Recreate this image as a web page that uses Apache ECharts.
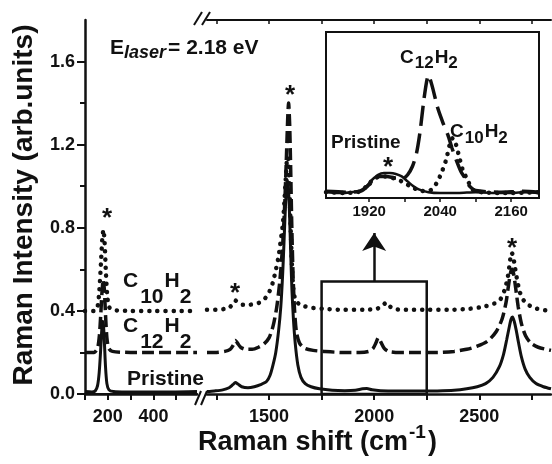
<!DOCTYPE html>
<html>
<head>
<meta charset="utf-8">
<script src="https://cdn.jsdelivr.net/npm/echarts@6/dist/echarts.min.js"></script>
<style>
  html,body{margin:0;padding:0;background:#fff;}
  #main{width:552px;height:464px;}
</style>
</head>
<body>
<div id="main"></div>
<script>
// spectra, [shift, intensity]
var pristineLow=[[100,0.012],[130,0.01],[145,0.015],[155,0.04],[162,0.1],[168,0.2],[173,0.3],[177,0.35],[181,0.33],[185,0.25],[190,0.13],[196,0.05],[205,0.02],[225,0.012],[280,0.01],[380,0.01],[480,0.01],[591,0.012]];
var c12Low=[[100,0.2],[140,0.2],[155,0.22],[163,0.28],[169,0.38],[175,0.5],[180,0.55],[185,0.5],[190,0.38],[196,0.27],[204,0.22],[220,0.205],[300,0.2],[400,0.2],[500,0.2],[591,0.2]];
var c10Low=[[100,0.4],[140,0.4],[155,0.42],[163,0.5],[170,0.63],[176,0.75],[181,0.79],[186,0.73],[191,0.6],[197,0.48],[205,0.42],[220,0.405],[300,0.4],[400,0.4],[500,0.4],[591,0.4]];

var pristineHigh=[[1205,0.012],[1240,0.015],[1280,0.02],[1310,0.03],[1328,0.045],[1340,0.055],[1352,0.048],[1370,0.035],[1400,0.03],[1430,0.035],[1460,0.045],[1488,0.06],[1505,0.09],[1519,0.14],[1532,0.2],[1545,0.3],[1556,0.42],[1565,0.58],[1572,0.75],[1578,0.9],[1583,0.99],[1588,1.03],[1593,0.98],[1598,0.85],[1603,0.68],[1609,0.5],[1616,0.36],[1625,0.24],[1637,0.14],[1652,0.08],[1672,0.05],[1700,0.035],[1740,0.025],[1800,0.018],[1860,0.016],[1910,0.018],[1945,0.025],[1965,0.026],[1990,0.02],[2030,0.016],[2100,0.014],[2200,0.014],[2300,0.015],[2380,0.018],[2440,0.025],[2490,0.035],[2530,0.05],[2565,0.08],[2595,0.13],[2615,0.19],[2630,0.26],[2642,0.32],[2651,0.36],[2658,0.37],[2666,0.35],[2675,0.31],[2686,0.25],[2700,0.18],[2718,0.12],[2740,0.08],[2770,0.05],[2805,0.035],[2841,0.025]];
var c12High=[[1205,0.2],[1250,0.2],[1290,0.205],[1315,0.215],[1330,0.235],[1340,0.258],[1350,0.245],[1365,0.225],[1390,0.215],[1420,0.215],[1450,0.225],[1475,0.24],[1500,0.27],[1520,0.33],[1537,0.42],[1552,0.55],[1565,0.72],[1575,0.92],[1583,1.15],[1589,1.33],[1593,1.4],[1598,1.3],[1603,1.08],[1608,0.82],[1614,0.58],[1621,0.41],[1630,0.3],[1645,0.245],[1670,0.22],[1710,0.21],[1760,0.205],[1850,0.2],[1930,0.2],[1975,0.205],[1995,0.22],[2008,0.245],[2020,0.272],[2032,0.25],[2048,0.22],[2070,0.205],[2120,0.2],[2200,0.2],[2300,0.2],[2380,0.205],[2440,0.215],[2490,0.23],[2540,0.255],[2580,0.3],[2608,0.36],[2627,0.44],[2640,0.53],[2650,0.59],[2656,0.6],[2663,0.58],[2673,0.51],[2685,0.42],[2700,0.34],[2720,0.28],[2745,0.245],[2780,0.225],[2841,0.21]];
var c10High=[[1205,0.405],[1250,0.405],[1290,0.41],[1315,0.42],[1330,0.435],[1340,0.45],[1352,0.44],[1375,0.43],[1410,0.43],[1440,0.435],[1465,0.445],[1489,0.47],[1505,0.5],[1519,0.54],[1533,0.6],[1545,0.66],[1556,0.74],[1566,0.82],[1574,0.94],[1581,1.06],[1587,1.14],[1592,1.13],[1597,1.0],[1603,0.8],[1609,0.62],[1616,0.5],[1625,0.455],[1640,0.435],[1660,0.425],[1700,0.415],[1760,0.41],[1850,0.405],[1950,0.405],[2010,0.41],[2035,0.42],[2050,0.435],[2060,0.44],[2072,0.425],[2090,0.41],[2150,0.405],[2250,0.405],[2350,0.405],[2450,0.41],[2520,0.42],[2570,0.435],[2600,0.455],[2620,0.5],[2635,0.56],[2645,0.63],[2653,0.68],[2660,0.67],[2668,0.62],[2678,0.56],[2690,0.5],[2705,0.46],[2725,0.435],[2760,0.415],[2800,0.405],[2841,0.4]];

// inset, 1850-2200 region
var pristineInset=[[1847,0.035],[1870,0.03],[1890,0.035],[1905,0.045],[1915,0.07],[1925,0.11],[1935,0.14],[1945,0.15],[1955,0.15],[1965,0.145],[1975,0.13],[1985,0.1],[1995,0.07],[2005,0.05],[2020,0.035],[2040,0.03],[2070,0.03],[2100,0.035],[2130,0.03],[2160,0.03],[2185,0.035],[2207,0.03]];
var c12Inset=[[1847,0.04],[1880,0.035],[1905,0.04],[1920,0.08],[1935,0.13],[1950,0.13],[1965,0.12],[1978,0.12],[1985,0.14],[1993,0.19],[2000,0.27],[2006,0.4],[2012,0.58],[2017,0.7],[2020,0.74],[2026,0.68],[2036,0.54],[2045,0.45],[2053,0.38],[2060,0.3],[2067,0.23],[2075,0.16],[2082,0.12],[2090,0.07],[2100,0.045],[2140,0.035],[2180,0.04],[2207,0.035]];
var c10Inset=[[1847,0.035],[1880,0.03],[1905,0.04],[1918,0.08],[1930,0.12],[1945,0.13],[1960,0.12],[1975,0.1],[1990,0.07],[2005,0.045],[2018,0.04],[2025,0.05],[2034,0.09],[2042,0.15],[2050,0.23],[2056,0.32],[2061,0.36],[2066,0.33],[2072,0.25],[2078,0.17],[2086,0.11],[2095,0.05],[2110,0.035],[2150,0.03],[2207,0.035]];

var lowTicks=[100,200,300,400,500];
var lowLabels=[200,400];
var highTicks=[1250,1500,1750,2000,2250,2500,2750];
var highLabels=[1500,2000,2500];
var yMajor=[0,0.4,0.8,1.2,1.6];
var yMinor=[0.2,0.6,1.0,1.4];
var insetTicks=[1920,1980,2040,2100,2160];
var insetLabels=[1920,2040,2160];

var INK='#111';
var FONT='"Liberation Sans", Arial, sans-serif';

var ctx=document.createElement('canvas').getContext('2d');
function fnt(size,italic){ return (italic?'italic ':'')+'bold '+size+'px '+FONT; }
// text made of pieces (subscripts, superscripts) laid one after another
function pieces(x,y,parts){
  var out=[];
  parts.forEach(function(p){
    var f=fnt(p.size,p.italic);
    ctx.font=f;
    x+=(p.gap||0);
    out.push({type:'text',x:x,y:y+(p.dy||0),z:100,
      style:{text:p.t,font:f,fill:INK,textAlign:'left',textVerticalAlign:'middle'}});
    x+=ctx.measureText(p.t).width;
  });
  return out;
}
function star(x,y){
  return {type:'text',x:x,y:y+6,z:100,style:{text:'*',font:fnt(26),fill:INK,textAlign:'center',textVerticalAlign:'middle'}};
}
function slash(x1,y1,x2,y2){
  return {type:'line',z:100,shape:{x1:x1,y1:y1,x2:x2,y2:y2},style:{stroke:INK,lineWidth:2}};
}
function plain(v){ return String(v); }

var graphics=[]
  .concat(pieces(110,48.5,[{t:'E',size:21},{t:'laser',size:18,italic:true,dy:5},{t:'= 2.18 eV',size:21,gap:2}]))
  .concat(pieces(123,281,[{t:'C',size:21},{t:'10',size:21,dy:16,gap:2},{t:'H',size:21,gap:1},{t:'2',size:21,dy:16}]))
  .concat(pieces(123,326,[{t:'C',size:21},{t:'12',size:21,dy:16,gap:2},{t:'H',size:21,gap:1},{t:'2',size:21,dy:16}]))
  .concat(pieces(127,379.5,[{t:'Pristine',size:21}]))
  .concat(pieces(400,57.5,[{t:'C',size:19},{t:'12',size:17,dy:6,gap:1},{t:'H',size:19,gap:1},{t:'2',size:17,dy:6}]))
  .concat(pieces(450,132,[{t:'C',size:19},{t:'10',size:17,dy:6,gap:1},{t:'H',size:19,gap:1},{t:'2',size:17,dy:6}]))
  .concat(pieces(331,143,[{t:'Pristine',size:19}]))
  .concat(pieces(198,443,[{t:'Raman shift (cm',size:27},{t:'-1',size:19,dy:-10,gap:1},{t:')',size:27,gap:2}]))
  .concat([
    {type:'text',x:24,y:205,rotation:Math.PI/2,z:100,
     style:{text:'Raman Intensity (arb.units)',font:fnt(28),fill:INK,textAlign:'center',textVerticalAlign:'middle'}},
    star(107,213),star(235,288),star(290,90),star(512,243),star(388,162),
    slash(195,405,201,391),slash(201,405,207,391),
    slash(194,25,202,12),slash(202,25,210,12)
  ]);

function lineSeries(name,data,xi,yi,style,extra){
  var s={name:name,type:'line',data:data,xAxisIndex:xi,yAxisIndex:yi,showSymbol:false,
    smooth:0.25,lineStyle:Object.assign({color:INK},style),z:3};
  return Object.assign(s,extra||{});
}
var solidS={width:3};
var dashS={width:3.5,type:[12,5]};
var dotS={width:4.5,type:[0.1,8],cap:'round'};
var dashIn={width:3.5,type:[20,8]};
var dotIn={width:4.5,type:[0.1,8],cap:'round'};

var tickLbl={fontFamily:FONT,fontWeight:'bold',fontSize:18,color:INK};

var option={
  animation:false,
  backgroundColor:'#fff',
  grid:[
    {left:85,top:20,width:112,height:374},
    {left:207,top:20,width:344,height:374},
    {left:326,top:32,width:213,height:166,show:true,backgroundColor:'#fff',borderColor:INK,borderWidth:2,z:5}
  ],
  xAxis:[
    {gridIndex:0,type:'value',position:'bottom',min:100,max:591,
     axisLine:{lineStyle:{color:INK,width:2.5}},
     axisTick:{customValues:lowTicks,length:6,lineStyle:{color:INK,width:2}},
     axisLabel:Object.assign({customValues:lowLabels,margin:14,formatter:plain},tickLbl),splitLine:{show:false}},
    {gridIndex:0,type:'value',position:'top',min:100,max:591,
     axisLine:{lineStyle:{color:INK,width:2}},
     axisTick:{customValues:lowTicks,inside:true,length:4,lineStyle:{color:INK,width:1.5}},
     axisLabel:{show:false},splitLine:{show:false}},
    {gridIndex:1,type:'value',position:'bottom',min:1205,max:2841,
     axisLine:{lineStyle:{color:INK,width:2.5}},
     axisTick:{customValues:highTicks,length:6,lineStyle:{color:INK,width:2}},
     axisLabel:Object.assign({customValues:highLabels,margin:14,formatter:plain},tickLbl),splitLine:{show:false}},
    {gridIndex:1,type:'value',position:'top',min:1205,max:2841,
     axisLine:{lineStyle:{color:INK,width:2}},
     axisTick:{customValues:highTicks,inside:true,length:4,lineStyle:{color:INK,width:1.5}},
     axisLabel:{show:false},splitLine:{show:false}},
    {gridIndex:2,type:'value',position:'bottom',min:1847,max:2207,
     axisLine:{show:false},
     axisTick:{customValues:insetTicks,inside:true,length:4,lineStyle:{color:INK,width:1.5}},
     axisLabel:{customValues:insetLabels,margin:6,formatter:plain,fontFamily:FONT,fontWeight:'bold',fontSize:15,color:INK},
     splitLine:{show:false}},
    {gridIndex:2,type:'value',position:'top',min:1847,max:2207,
     axisLine:{show:false},
     axisTick:{customValues:insetTicks,inside:true,length:4,lineStyle:{color:INK,width:1.5}},
     axisLabel:{show:false},splitLine:{show:false}}
  ],
  yAxis:[
    {gridIndex:0,type:'value',position:'left',min:0,max:1.8,
     axisLine:{show:true,lineStyle:{color:INK,width:2.5}},
     axisTick:{customValues:yMajor,length:8,lineStyle:{color:INK,width:2}},
     axisLabel:Object.assign({customValues:yMajor,margin:10,formatter:function(v){return v.toFixed(1);}},tickLbl),
     splitLine:{show:false}},
    {gridIndex:0,type:'value',position:'left',min:0,max:1.8,
     axisLine:{show:false},
     axisTick:{show:true,customValues:yMinor,length:5,lineStyle:{color:INK,width:2}},
     axisLabel:{show:false},splitLine:{show:false}},
    {gridIndex:1,type:'value',min:0,max:1.8,show:false},
    {gridIndex:2,type:'value',position:'left',min:0,max:1,interval:0.25,
     axisLine:{show:false},
     axisTick:{show:true,inside:true,length:4,lineStyle:{color:INK,width:1.5}},
     axisLabel:{show:false},splitLine:{show:false}},
    {gridIndex:2,type:'value',position:'right',min:0,max:1,interval:0.25,
     axisLine:{show:false},
     axisTick:{show:true,inside:true,length:4,lineStyle:{color:INK,width:1.5}},
     axisLabel:{show:false},splitLine:{show:false}}
  ],
  series:[
    lineSeries('Pristine',pristineLow,0,0,solidS),
    lineSeries('C12H2',c12Low,0,0,dashS),
    lineSeries('C10H2',c10Low,0,0,dotS),
    lineSeries('Pristine',pristineHigh,2,2,solidS,{
      markArea:{silent:true,itemStyle:{color:'rgba(0,0,0,0)',borderColor:INK,borderWidth:2.5},
        data:[[{coord:[1750,0]},{coord:[2250,0.542]}]]},
      markLine:{silent:true,symbol:['none','arrow'],symbolSize:18,label:{show:false},
        lineStyle:{color:INK,width:2.5,type:'solid'},
        itemStyle:{color:INK},
        data:[[{coord:[2000,0.542]},{coord:[2000,0.775]}]]}
    }),
    lineSeries('C12H2',c12High,2,2,dashS),
    lineSeries('C10H2',c10High,2,2,dotS),
    lineSeries('Pristine',pristineInset,4,3,{width:2.5},{z:10}),
    lineSeries('C12H2',c12Inset,4,3,dashIn,{z:10}),
    lineSeries('C10H2',c10Inset,4,3,dotIn,{z:10})
  ],
  graphic:graphics
};

var chart=echarts.init(document.getElementById('main'),null,{renderer:'canvas'});
chart.setOption(option);
</script>
</body>
</html>
